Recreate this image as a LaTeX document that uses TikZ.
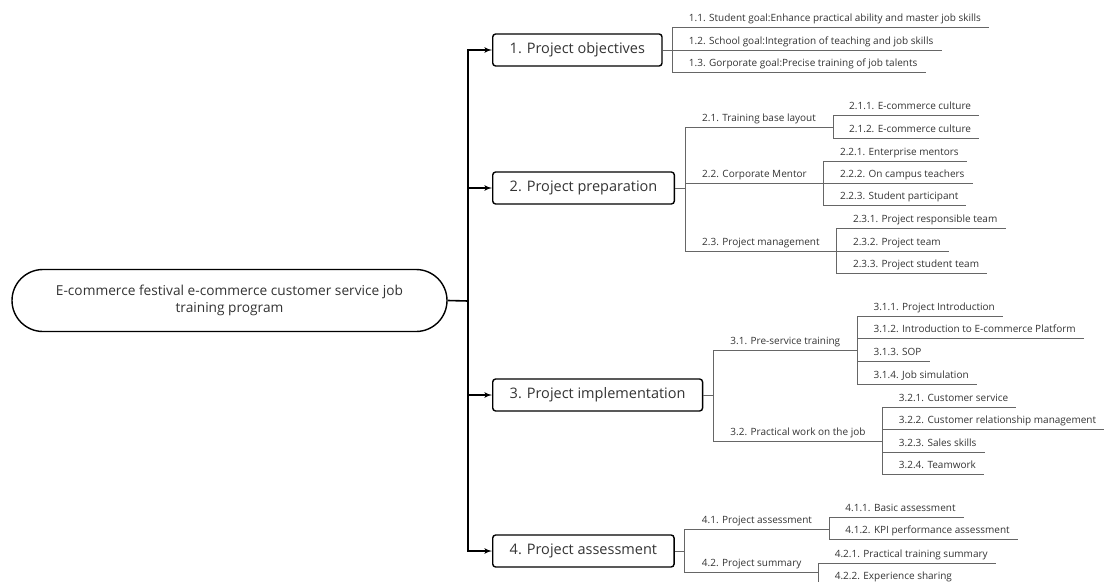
\documentclass[tikz,border=0pt]{standalone}
\usepackage{fontspec}
\setmainfont{Open Sans}
\usetikzlibrary{shapes,arrows,positioning}
\definecolor{twiggray}{HTML}{666666}
\definecolor{textgray}{HTML}{333333}
\tikzstyle{trunk} = [draw, line width=1.6pt, -latex']
\tikzstyle{twig} = [draw, twiggray, line width=0.9pt]
\tikzstyle{root} = [rectangle, draw, line width=1.4pt, rounded corners=31pt, minimum width=435pt, minimum height=62pt, align=center, font=\fontsize{13.7}{17}\selectfont, text=textgray]
\tikzstyle{block} = [rectangle, draw, line width=1.4pt, rounded corners=3pt, anchor=west, minimum height=32pt, inner xsep=17pt, font=\fontsize{14.5}{17}\selectfont, text=textgray]
\tikzstyle{branch} = [anchor=south west, inner xsep=17pt, inner ysep=2pt, text height=8pt, text depth=3pt, font=\fontsize{10}{12}\selectfont, text=textgray]
\tikzstyle{leaf} = [branch, inner xsep=8pt, xshift=8pt]

\begin{document}
\begin{tikzpicture}[x=1pt, y=-1pt]
	\useasboundingbox (0,0) rectangle (1108,581);
	\node [root] (program) at (229.5,300.5) {E-commerce festival e-commerce customer service job\\training program};
	\coordinate (hub) at (468,301);
	\node [block] (obj) at (492,50) {1. Project objectives};
	\node [block] (prep) at (492,188) {2. Project preparation};
	\node [block] (impl) at (492,395) {3. Project implementation};
	\node [block] (assess) at (492,551) {4. Project assessment};
	\draw [line width=1.6pt] (program.east) -- (hub);
	\path [trunk] (hub) |- (obj.west);
	\path [trunk] (hub) |- (prep.west);
	\path [trunk] (hub) |- (impl.west);
	\path [trunk] (hub) |- (assess.west);
	% forks next to the blocks
	\coordinate (objfork) at ([xshift=10pt]obj.east);
	\coordinate (prepfork) at ([xshift=10pt]prep.east);
	\coordinate (implfork) at ([xshift=10pt]impl.east);
	\coordinate (assessfork) at ([xshift=10pt]assess.east);
	% 1
	\node [leaf] (o1) at (objfork |- 0,27) {1.1. Student goal:Enhance practical ability and master job skills};
	\node [leaf] (o2) at (objfork |- 0,50) {1.2. School goal:Integration of teaching and job skills};
	\node [leaf] (o3) at (objfork |- 0,72) {1.3. Gorporate goal:Precise training of job talents};
	\path [twig] (obj.east) -- (objfork) |- (o1.south east);
	\path [twig] (objfork) |- (o2.south east);
	\path [twig] (objfork) |- (o3.south east);
	% 2
	\node [branch] (p1) at (prepfork |- 0,127) {2.1. Training base layout};
	\node [branch] (p2) at (prepfork |- 0,183) {2.2. Corporate Mentor};
	\node [branch] (p3) at (prepfork |- 0,251) {2.3. Project management};
	\path [twig] (prep.east) -- (prepfork) |- (p1.south east);
	\path [twig] (prepfork) |- (p2.south east);
	\path [twig] (prepfork) |- (p3.south east);
	\node [leaf] (p11) at (p1.south east |- 0,115) {2.1.1. E-commerce culture};
	\node [leaf] (p12) at (p1.south east |- 0,138) {2.1.2. E-commerce culture};
	\path [twig] (p1.south east) |- (p11.south east);
	\path [twig] (p1.south east) |- (p12.south east);
	\node [leaf] (p21) at (p2.south east |- 0,161) {2.2.1. Enterprise mentors};
	\node [leaf] (p22) at (p2.south east |- 0,183) {2.2.2. On campus teachers};
	\node [leaf] (p23) at (p2.south east |- 0,205) {2.2.3. Student participant};
	\path [twig] (p2.south east) |- (p21.south east);
	\path [twig] (p2.south east) |- (p22.south east);
	\path [twig] (p2.south east) |- (p23.south east);
	\node [leaf] (p31) at (p3.south east |- 0,228) {2.3.1. Project responsible team};
	\node [leaf] (p32) at (p3.south east |- 0,251) {2.3.2. Project team};
	\node [leaf] (p33) at (p3.south east |- 0,273) {2.3.3. Project student team};
	\path [twig] (p3.south east) |- (p31.south east);
	\path [twig] (p3.south east) |- (p32.south east);
	\path [twig] (p3.south east) |- (p33.south east);
	% 3
	\node [branch] (i1) at (implfork |- 0,350) {3.1. Pre-service training};
	\node [branch] (i2) at (implfork |- 0,441) {3.2. Practical work on the job};
	\path [twig] (impl.east) -- (implfork) |- (i1.south east);
	\path [twig] (implfork) |- (i2.south east);
	\node [leaf] (i11) at (i1.south east |- 0,316) {3.1.1. Project Introduction};
	\node [leaf] (i12) at (i1.south east |- 0,338) {3.1.2. Introduction to E-commerce Platform};
	\node [leaf] (i13) at (i1.south east |- 0,361) {3.1.3. SOP};
	\node [leaf] (i14) at (i1.south east |- 0,384) {3.1.4. Job simulation};
	\path [twig] (i1.south east) |- (i11.south east);
	\path [twig] (i1.south east) |- (i12.south east);
	\path [twig] (i1.south east) |- (i13.south east);
	\path [twig] (i1.south east) |- (i14.south east);
	\node [leaf] (i21) at (i2.south east |- 0,407) {3.2.1. Customer service};
	\node [leaf] (i22) at (i2.south east |- 0,429) {3.2.2. Customer relationship management};
	\node [leaf] (i23) at (i2.south east |- 0,452) {3.2.3. Sales skills};
	\node [leaf] (i24) at (i2.south east |- 0,474) {3.2.4. Teamwork};
	\path [twig] (i2.south east) |- (i21.south east);
	\path [twig] (i2.south east) |- (i22.south east);
	\path [twig] (i2.south east) |- (i23.south east);
	\path [twig] (i2.south east) |- (i24.south east);
	% 4
	\node [branch] (a1) at (assessfork |- 0,529) {4.1. Project assessment};
	\node [branch] (a2) at (assessfork |- 0,572) {4.2. Project summary};
	\path [twig] (assess.east) -- (assessfork) |- (a1.south east);
	\path [twig] (assessfork) |- (a2.south east);
	\node [leaf] (a11) at (a1.south east |- 0,517) {4.1.1. Basic assessment};
	\node [leaf] (a12) at (a1.south east |- 0,539) {4.1.2. KPI performance assessment};
	\path [twig] (a1.south east) |- (a11.south east);
	\path [twig] (a1.south east) |- (a12.south east);
	\node [leaf] (a21) at (a2.south east |- 0,563) {4.2.1. Practical training summary};
	\node [leaf] (a22) at (a2.south east |- 0,585) {4.2.2. Experience sharing};
	\path [twig] (a2.south east) |- (a21.south east);
	\path [twig] (a2.south east) |- (a22.south east);
\end{tikzpicture}
\end{document}
